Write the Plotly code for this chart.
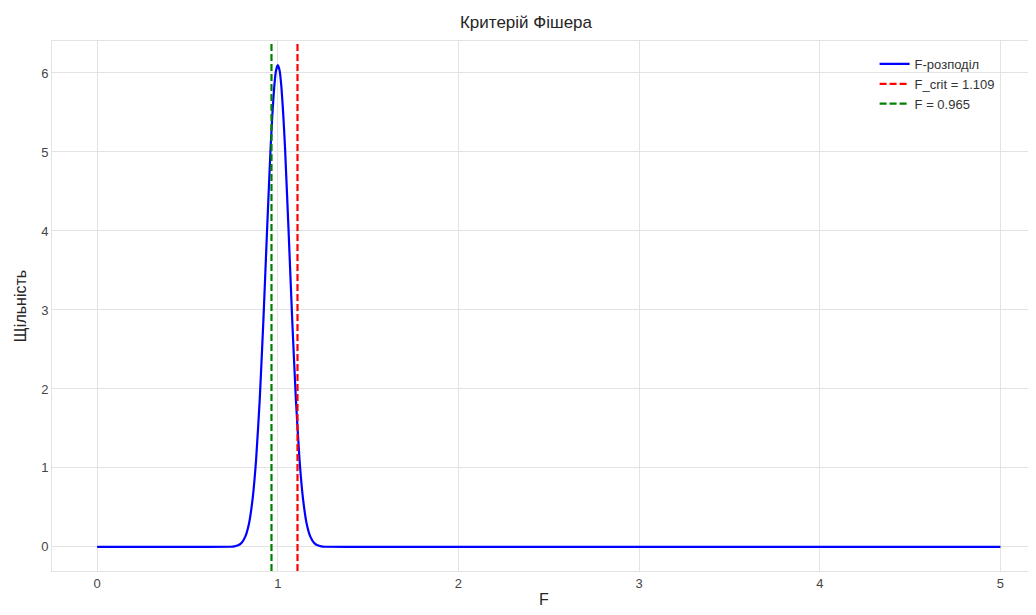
import plotly.graph_objects as go

# F-distribution density
f_x = [0.0, 0.5, 0.74, 0.76, 0.78, 0.80, 0.82, 0.84, 0.86, 0.88, 0.90, 0.92, 0.94, 0.96, 0.97, 0.98, 0.99,
       1.00, 1.01, 1.02, 1.03, 1.04, 1.06, 1.08, 1.10, 1.12, 1.14, 1.16, 1.18, 1.20, 1.22, 1.24, 1.26,
       1.5, 2.0, 3.0, 4.0, 5.0]
f_y = [0.0, 0.0, 0.002, 0.007, 0.02, 0.054, 0.13, 0.29, 0.60, 1.11, 1.87, 2.86, 3.98, 5.05, 5.48, 5.82, 6.03,
       6.10, 6.03, 5.82, 5.48, 5.05, 3.98, 2.86, 1.87, 1.11, 0.60, 0.29, 0.13, 0.054, 0.02, 0.007, 0.002,
       0.0, 0.0, 0.0, 0.0, 0.0]

f_crit = 1.109
f_obs = 0.965

x_ticks = [0, 1, 2, 3, 4, 5]
y_ticks = [0, 1, 2, 3, 4, 5, 6]

y_lo, y_hi = -0.305, 6.405

font = "Liberation Sans, Arial, sans-serif"

fig = go.Figure()
fig.add_trace(go.Scatter(x=f_x, y=f_y, mode="lines", name="F-розподіл",
                         line=dict(color="#0000ff", width=2.2, shape="spline", smoothing=0.4)))
fig.add_trace(go.Scatter(x=[f_crit, f_crit], y=[y_lo, y_hi], mode="lines",
                         name=f"F_crit = {f_crit}",
                         line=dict(color="#ff0000", width=2.2, dash="7px,3px")))
fig.add_trace(go.Scatter(x=[f_obs, f_obs], y=[y_lo, y_hi], mode="lines",
                         name=f"F = {f_obs}",
                         line=dict(color="#008000", width=2.2, dash="7px,3px")))

fig.update_layout(
    width=1036, height=615,
    margin=dict(l=44, r=8, t=33, b=52),
    paper_bgcolor="white", plot_bgcolor="white",
    font=dict(family=font, color="#333333", size=13),
    title=dict(text="Критерій Фішера", x=0.5, xanchor="center", y=0.977, yanchor="middle",
               font=dict(size=17, color="#262626")),
    showlegend=True,
    legend=dict(x=0.963, xanchor="right", y=0.985, yanchor="top",
                bgcolor="rgba(0,0,0,0)", font=dict(size=13, color="#333333"),
                tracegroupgap=0),
)
fig.update_xaxes(range=[-0.25, 5.197], tickvals=x_ticks, showgrid=True, gridcolor="#e3e3e3",
                 gridwidth=1, zeroline=False, showline=True, linecolor="#e3e3e3", mirror=True,
                 ticks="", tickfont=dict(size=13, color="#444444"), automargin=False,
                 title=dict(text="F", font=dict(size=16, color="#262626"), standoff=4))
fig.update_yaxes(range=[y_lo, y_hi], tickvals=y_ticks, showgrid=True, gridcolor="#e3e3e3",
                 gridwidth=1, zeroline=False, showline=True, linecolor="#e3e3e3", mirror=True,
                 ticks="", tickfont=dict(size=13, color="#444444"), automargin=False,
                 title=dict(text="Щільність", font=dict(size=16, color="#262626"), standoff=10))

fig.write_html("out.html")
